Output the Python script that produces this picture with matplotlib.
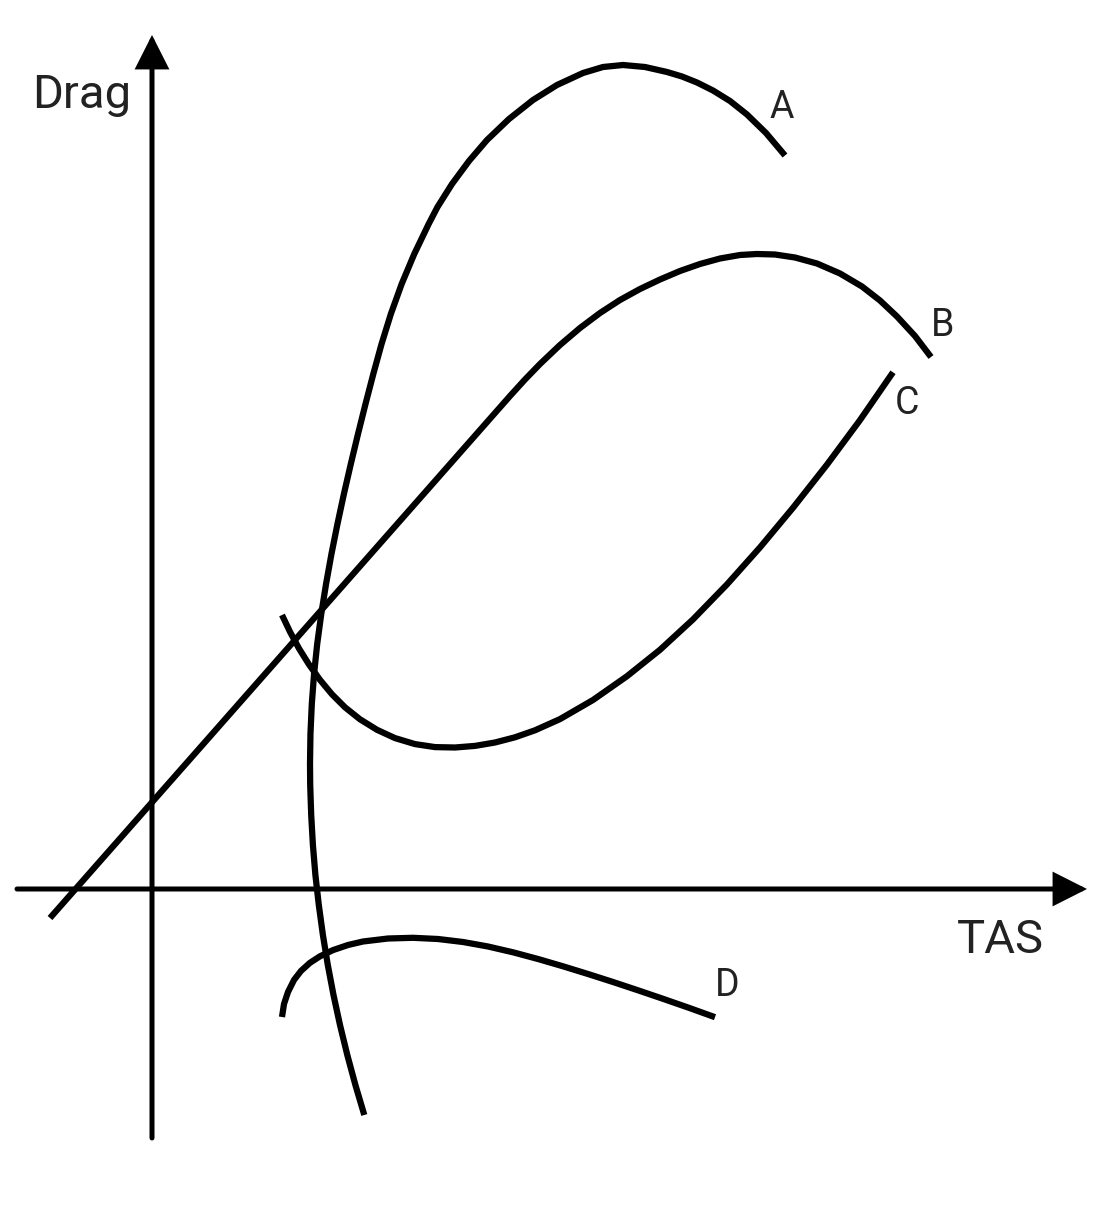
import matplotlib
matplotlib.use("Agg")
import matplotlib.pyplot as plt

# Schematic drag curves. Units are arbitrary
# (TAS to the right, Drag upward, origin where the two axes cross).
A_TAS = [212.3, 203.4, 195.3, 188.0, 181.5, 175.8, 170.9, 166.8, 163.4, 160.9,
         159.2, 158.2, 158.0, 158.45, 159.8, 162.05, 165.2, 169.25, 174.05,
         179.45, 185.45, 191.9, 198.8, 206.0, 213.5, 221.3, 229.55, 238.85,
         249.65, 262.25, 276.65, 285.5, 300, 317, 335, 357, 381, 405, 431, 451,
         471, 493, 515, 530, 545, 561, 578, 595, 614, 633]
A_DRAG = [-226, -196, -166, -136, -106, -76, -46, -16, 14, 44, 74, 104, 125,
          155, 185, 215, 245, 275, 305, 335, 365, 395, 425, 455, 485, 515, 545,
          575, 605, 635, 665, 682, 705, 728, 749, 770, 789, 804, 816, 822, 824,
          822, 817, 812.5, 806.5, 798.5, 788, 774.5, 756, 733.5]

B_TAS = [-102, 358, 373, 388, 408, 428, 448, 468, 488, 508, 528, 548, 568,
         588, 605, 623, 643, 665, 688, 710, 728, 745, 763, 779]
B_DRAG = [-29, 493, 509.5, 525, 544, 561, 576, 589, 600, 609.5, 618, 625,
          630.5, 634, 635, 634.5, 631.5, 625.5, 615.5, 602.5, 588.5, 572.5,
          553, 532]

C_TAS = [130, 138, 147, 157, 168, 180, 193, 208, 225, 243, 263, 283, 303, 323,
         343, 363, 383, 408, 441, 475, 508, 541, 575, 608, 641, 675, 708, 741]
C_DRAG = [274, 257.2, 240.5, 224.5, 209.1, 194.7, 181.7, 169.7, 159.2, 150.9,
          144.9, 141.9, 141.5, 143.1, 146.5, 151.7, 158.7, 169.9, 189.0, 212.8,
          239.2, 269.6, 304.6, 341.6, 381.2, 424.4, 468.9, 516.7]

D_TAS = [130, 132, 136, 142, 149, 158, 168, 181, 196, 211, 236, 261, 286, 311,
         336, 361, 386, 411, 436, 461, 486, 511, 538, 563]
D_DRAG = [-128, -115, -103, -91, -81.9, -73.8, -67.3, -61.1, -56, -52.5, -49.5,
          -48.8, -50, -53, -57.5, -63.3, -70, -77.3, -85, -93, -101.3, -109.8,
          -119.2, -128.2]

CURVES = [("A", A_TAS, A_DRAG), ("B", B_TAS, B_DRAG),
          ("C", C_TAS, C_DRAG), ("D", D_TAS, D_DRAG)]

# label anchor for each curve letter
LABEL_POS = {"A": (630, 781), "B": (791, 564), "C": (755, 485), "D": (575, -97)}

TEXT_COLOR = "#222222"
plt.rcParams["font.family"] = ["Roboto", "DejaVu Sans"]

fig = plt.figure(figsize=(11.10, 12.24), dpi=100)
ax = fig.add_axes([0, 0, 1, 1])
ax.set_xlim(-152, 958)
ax.set_ylim(-335, 889)
ax.axis("off")

# axes with arrow heads
arrow = dict(arrowstyle="-|>,head_length=0.95,head_width=0.48", lw=3.6,
             color="black", mutation_scale=20, shrinkA=0, shrinkB=0,
             joinstyle="miter")
ax.annotate("", xy=(0, 854), xytext=(0, -249), arrowprops=arrow)
ax.annotate("", xy=(935, 0), xytext=(-135, 0), arrowprops=arrow)

for name, x, y in CURVES:
    ax.plot(x, y, color="black", lw=4.5, solid_capstyle="butt",
            solid_joinstyle="round")
    lx, ly = LABEL_POS[name]
    ax.text(lx, ly, name, fontsize=27, color=TEXT_COLOR,
            ha="center", va="center")

ax.text(-70, 794, "Drag", fontsize=34, color=TEXT_COLOR, ha="center",
        va="center")
ax.text(848, -51, "TAS", fontsize=34, color=TEXT_COLOR, ha="center",
        va="center")

fig.savefig("out.png", dpi=100, facecolor="white")
